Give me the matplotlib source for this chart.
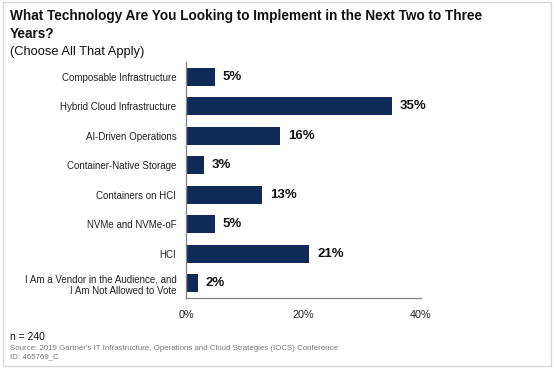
import numpy as np
import matplotlib.pyplot as plt
from matplotlib.patches import Rectangle

plt.rcParams['font.family'] = ['Liberation Sans', 'DejaVu Sans']

# survey data
categories = ['Composable Infrastructure', 'Hybrid Cloud Infrastructure', 'AI-Driven Operations',
              'Container-Native Storage', 'Containers on HCI', 'NVMe and NVMe-oF', 'HCI',
              'I Am a Vendor in the Audience, and\nI Am Not Allowed to Vote']
values = [5, 35, 16, 3, 13, 5, 21, 2]
ticks = [0, 20, 40]
tick_labels = ['0%', '20%', '40%']

navy = '#0f2a57'

fig = plt.figure(figsize=(5.54, 3.70), dpi=100)
ax = fig.add_axes([186/554, 1 - 298/370, (421 - 186)/554, (298 - 62)/370])

y = np.arange(len(categories))
ax.barh(y, values, height=0.62, color=navy)
for yi, v in zip(y, values):
    ax.text(v + 1.3, yi, f'{v}%', va='center', ha='left', fontsize=9.5, fontweight='bold', color='#111111')

ax.set_xlim(0, 40)
ax.set_ylim(len(categories) - 0.5, -0.5)
ax.set_yticks(y)
ax.set_yticklabels(categories, fontsize=7, color='#222222')
ax.set_xticks(ticks)
ax.set_xticklabels(tick_labels, fontsize=7.8, color='#222222')
ax.tick_params(axis='both', length=0, pad=9)
ax.tick_params(axis='y', pad=7)
for s in ['top', 'right']:
    ax.spines[s].set_visible(False)
for s in ['left', 'bottom']:
    ax.spines[s].set_color('#8a8a8a')
    ax.spines[s].set_linewidth(1)

# titles
fig.text(10/554, 1 - 16/370, 'What Technology Are You Looking to Implement in the Next Two to Three',
         fontsize=9.8, fontweight='bold', va='center', ha='left', color='#111111')
fig.text(10/554, 1 - 34/370, 'Years?',
         fontsize=9.8, fontweight='bold', va='center', ha='left', color='#111111')
fig.text(10/554, 1 - 52/370, '(Choose All That Apply)', fontsize=9.3, va='center', ha='left', color='#111111')

# footnotes
fig.text(10/554, 1 - 337/370, 'n = 240', fontsize=7.5, va='center', ha='left', color='#111111')
fig.text(10/554, 1 - 348/370,
         "Source: 2019 Gartner's IT Infrastructure, Operations and Cloud Strategies (IOCS) Conference",
         fontsize=5.7, va='center', ha='left', color='#777777')
fig.text(10/554, 1 - 357/370, 'ID: 465769_C', fontsize=5.7, va='center', ha='left', color='#777777')

# light frame around the slide
fig.patches.append(Rectangle((3/554, 4/370), 548/554, 364/370, transform=fig.transFigure,
                             fill=False, edgecolor='#d8d8d8', linewidth=1))

fig.savefig('out.png', dpi=100)
